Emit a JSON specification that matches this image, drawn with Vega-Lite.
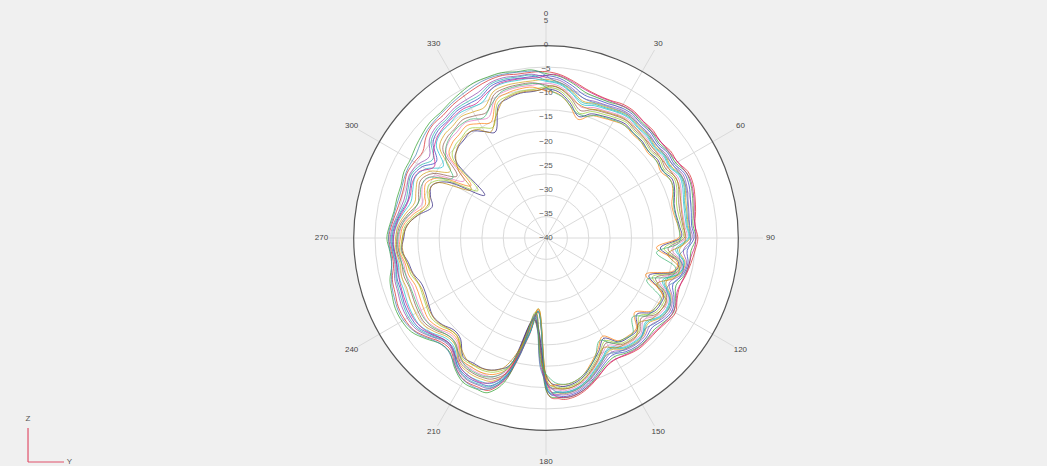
{
"$schema":"https://vega.github.io/schema/vega-lite/v6.json",
"width":1000,"height":440,
"autosize":{"type":"none"},
"padding":{"left":46,"top":18,"right":1,"bottom":8},
"background":"#f0f0f0",
"config":{"view":{"stroke":null},"text":{"font":"Liberation Sans"}},
"datasets":{
"rings":[{"db":-40},{"db":-35},{"db":-30},{"db":-25},{"db":-20},{"db":-15},{"db":-10},{"db":-5},{"db":0},{"db":5}],
"spokes":[{"ang":0},{"ang":30},{"ang":60},{"ang":90},{"ang":120},{"ang":150},{"ang":180},{"ang":210},{"ang":240},{"ang":270},{"ang":300},{"ang":330}],
"curves":[
{"s":1,"a":0,"r":-5.5},{"s":1,"a":5,"r":-6},{"s":1,"a":10,"r":-7},{"s":1,"a":15,"r":-8},{"s":1,"a":20,"r":-8.5},{"s":1,"a":25,"r":-8.5},{"s":1,"a":30,"r":-8},{"s":1,"a":35,"r":-8},{"s":1,"a":40,"r":-8.5},{"s":1,"a":45,"r":-8.5},{"s":1,"a":50,"r":-9},{"s":1,"a":55,"r":-8.5},{"s":1,"a":60,"r":-8.5},{"s":1,"a":65,"r":-7.5},{"s":1,"a":70,"r":-7.5},{"s":1,"a":75,"r":-8},{"s":1,"a":80,"r":-8.5},{"s":1,"a":85,"r":-9},{"s":1,"a":90,"r":-8.5},{"s":1,"a":95,"r":-9},{"s":1,"a":100,"r":-9.5},{"s":1,"a":105,"r":-10},{"s":1,"a":110,"r":-10.5},{"s":1,"a":115,"r":-10},{"s":1,"a":120,"r":-9},{"s":1,"a":125,"r":-9.5},{"s":1,"a":130,"r":-10},{"s":1,"a":135,"r":-10},{"s":1,"a":140,"r":-10},{"s":1,"a":145,"r":-10.5},{"s":1,"a":150,"r":-11},{"s":1,"a":155,"r":-10.5},{"s":1,"a":160,"r":-9},{"s":1,"a":165,"r":-7.5},{"s":1,"a":170,"r":-6.5},{"s":1,"a":175,"r":-6.5},
{"s":1,"a":180,"r":-8.8},{"s":1,"a":185,"r":-24.1},{"s":1,"a":190,"r":-19.2},{"s":1,"a":195,"r":-10.8},{"s":1,"a":200,"r":-6.5},{"s":1,"a":205,"r":-6},{"s":1,"a":210,"r":-6},{"s":1,"a":215,"r":-7.3},{"s":1,"a":220,"r":-9.4},{"s":1,"a":225,"r":-9.4},{"s":1,"a":230,"r":-8},{"s":1,"a":235,"r":-6.6},{"s":1,"a":240,"r":-6.2},{"s":1,"a":245,"r":-6.2},{"s":1,"a":250,"r":-6.7},{"s":1,"a":255,"r":-7},{"s":1,"a":260,"r":-7.9},{"s":1,"a":265,"r":-7.8},{"s":1,"a":270,"r":-7.4},{"s":1,"a":275,"r":-7.9},{"s":1,"a":280,"r":-8.5},{"s":1,"a":285,"r":-8.8},{"s":1,"a":290,"r":-8.7},{"s":1,"a":295,"r":-8.2},{"s":1,"a":300,"r":-8.5},{"s":1,"a":305,"r":-8.8},{"s":1,"a":310,"r":-7.5},{"s":1,"a":315,"r":-6.8},{"s":1,"a":320,"r":-6.8},{"s":1,"a":325,"r":-6.3},{"s":1,"a":330,"r":-6},{"s":1,"a":335,"r":-5.6},{"s":1,"a":340,"r":-5.2},{"s":1,"a":345,"r":-5.1},{"s":1,"a":350,"r":-5.5},{"s":1,"a":355,"r":-5.5},
{"s":2,"a":0,"r":-5.9},{"s":2,"a":5,"r":-6.4},{"s":2,"a":10,"r":-7.5},{"s":2,"a":15,"r":-8.7},{"s":2,"a":20,"r":-9},{"s":2,"a":25,"r":-8.9},{"s":2,"a":30,"r":-8.4},{"s":2,"a":35,"r":-8.4},{"s":2,"a":40,"r":-8.9},{"s":2,"a":45,"r":-8.9},{"s":2,"a":50,"r":-9.4},{"s":2,"a":55,"r":-8.9},{"s":2,"a":60,"r":-8.9},{"s":2,"a":65,"r":-7.9},{"s":2,"a":70,"r":-8},{"s":2,"a":75,"r":-8.5},{"s":2,"a":80,"r":-9},{"s":2,"a":85,"r":-9.4},{"s":2,"a":90,"r":-8.9},{"s":2,"a":95,"r":-9.8},{"s":2,"a":100,"r":-9.8},{"s":2,"a":105,"r":-10.3},{"s":2,"a":110,"r":-11.3},{"s":2,"a":115,"r":-10.4},{"s":2,"a":120,"r":-9.4},{"s":2,"a":125,"r":-9.9},{"s":2,"a":130,"r":-10.6},{"s":2,"a":135,"r":-10.4},{"s":2,"a":140,"r":-10.4},{"s":2,"a":145,"r":-10.9},{"s":2,"a":150,"r":-11.6},{"s":2,"a":155,"r":-10.9},{"s":2,"a":160,"r":-9.4},{"s":2,"a":165,"r":-7.8},{"s":2,"a":170,"r":-6.8},{"s":2,"a":175,"r":-6.8},
{"s":2,"a":180,"r":-8.5},{"s":2,"a":185,"r":-20.5},{"s":2,"a":190,"r":-22},{"s":2,"a":195,"r":-10.5},{"s":2,"a":200,"r":-6},{"s":2,"a":205,"r":-5.5},{"s":2,"a":210,"r":-5.5},{"s":2,"a":215,"r":-7},{"s":2,"a":220,"r":-9},{"s":2,"a":225,"r":-9},{"s":2,"a":230,"r":-7.5},{"s":2,"a":235,"r":-6},{"s":2,"a":240,"r":-5.5},{"s":2,"a":245,"r":-5.5},{"s":2,"a":250,"r":-6},{"s":2,"a":255,"r":-6.5},{"s":2,"a":260,"r":-7.5},{"s":2,"a":265,"r":-7.5},{"s":2,"a":270,"r":-7},{"s":2,"a":275,"r":-7.5},{"s":2,"a":280,"r":-8},{"s":2,"a":285,"r":-8},{"s":2,"a":290,"r":-8},{"s":2,"a":295,"r":-7.5},{"s":2,"a":300,"r":-7.5},{"s":2,"a":305,"r":-7},{"s":2,"a":310,"r":-6.5},{"s":2,"a":315,"r":-6},{"s":2,"a":320,"r":-6},{"s":2,"a":325,"r":-5.5},{"s":2,"a":330,"r":-5},{"s":2,"a":335,"r":-4.5},{"s":2,"a":340,"r":-4.5},{"s":2,"a":345,"r":-4.5},{"s":2,"a":350,"r":-5},{"s":2,"a":355,"r":-5},
{"s":3,"a":0,"r":-6.3},{"s":3,"a":5,"r":-6.8},{"s":3,"a":10,"r":-8},{"s":3,"a":15,"r":-9.3},{"s":3,"a":20,"r":-9.4},{"s":3,"a":25,"r":-9.3},{"s":3,"a":30,"r":-8.8},{"s":3,"a":35,"r":-8.7},{"s":3,"a":40,"r":-9.2},{"s":3,"a":45,"r":-9.2},{"s":3,"a":50,"r":-9.7},{"s":3,"a":55,"r":-9.2},{"s":3,"a":60,"r":-9.3},{"s":3,"a":65,"r":-8.3},{"s":3,"a":70,"r":-8.4},{"s":3,"a":75,"r":-9},{"s":3,"a":80,"r":-9.4},{"s":3,"a":85,"r":-9.7},{"s":3,"a":90,"r":-9.3},{"s":3,"a":95,"r":-10.6},{"s":3,"a":100,"r":-10.1},{"s":3,"a":105,"r":-10.6},{"s":3,"a":110,"r":-12},{"s":3,"a":115,"r":-10.7},{"s":3,"a":120,"r":-9.8},{"s":3,"a":125,"r":-10.3},{"s":3,"a":130,"r":-11.2},{"s":3,"a":135,"r":-10.7},{"s":3,"a":140,"r":-10.7},{"s":3,"a":145,"r":-11.2},{"s":3,"a":150,"r":-12.1},{"s":3,"a":155,"r":-11.3},{"s":3,"a":160,"r":-9.7},{"s":3,"a":165,"r":-8.1},{"s":3,"a":170,"r":-7.1},{"s":3,"a":175,"r":-7.1},
{"s":3,"a":180,"r":-9.4},{"s":3,"a":185,"r":-24.3},{"s":3,"a":190,"r":-19.6},{"s":3,"a":195,"r":-11.4},{"s":3,"a":200,"r":-7.5},{"s":3,"a":205,"r":-6.9},{"s":3,"a":210,"r":-6.9},{"s":3,"a":215,"r":-7.9},{"s":3,"a":220,"r":-10.1},{"s":3,"a":225,"r":-10.2},{"s":3,"a":230,"r":-8.9},{"s":3,"a":235,"r":-7.7},{"s":3,"a":240,"r":-7.5},{"s":3,"a":245,"r":-7.6},{"s":3,"a":250,"r":-8},{"s":3,"a":255,"r":-8},{"s":3,"a":260,"r":-8.6},{"s":3,"a":265,"r":-8.3},{"s":3,"a":270,"r":-8.1},{"s":3,"a":275,"r":-8.6},{"s":3,"a":280,"r":-9.5},{"s":3,"a":285,"r":-10.3},{"s":3,"a":290,"r":-10},{"s":3,"a":295,"r":-9.5},{"s":3,"a":300,"r":-10.4},{"s":3,"a":305,"r":-12.3},{"s":3,"a":310,"r":-9.4},{"s":3,"a":315,"r":-8.4},{"s":3,"a":320,"r":-8.3},{"s":3,"a":325,"r":-7.8},{"s":3,"a":330,"r":-7.9},{"s":3,"a":335,"r":-7.8},{"s":3,"a":340,"r":-6.5},{"s":3,"a":345,"r":-6.2},{"s":3,"a":350,"r":-6.4},{"s":3,"a":355,"r":-6.4},
{"s":4,"a":0,"r":-6.7},{"s":4,"a":5,"r":-7.2},{"s":4,"a":10,"r":-8.5},{"s":4,"a":15,"r":-10},{"s":4,"a":20,"r":-9.9},{"s":4,"a":25,"r":-9.7},{"s":4,"a":30,"r":-9.2},{"s":4,"a":35,"r":-9.1},{"s":4,"a":40,"r":-9.6},{"s":4,"a":45,"r":-9.6},{"s":4,"a":50,"r":-10.1},{"s":4,"a":55,"r":-9.6},{"s":4,"a":60,"r":-9.7},{"s":4,"a":65,"r":-8.7},{"s":4,"a":70,"r":-8.9},{"s":4,"a":75,"r":-9.5},{"s":4,"a":80,"r":-9.9},{"s":4,"a":85,"r":-10.1},{"s":4,"a":90,"r":-9.7},{"s":4,"a":95,"r":-11.4},{"s":4,"a":100,"r":-10.4},{"s":4,"a":105,"r":-10.9},{"s":4,"a":110,"r":-12.8},{"s":4,"a":115,"r":-11.1},{"s":4,"a":120,"r":-10.2},{"s":4,"a":125,"r":-10.7},{"s":4,"a":130,"r":-11.8},{"s":4,"a":135,"r":-11.1},{"s":4,"a":140,"r":-11.1},{"s":4,"a":145,"r":-11.6},{"s":4,"a":150,"r":-12.7},{"s":4,"a":155,"r":-11.7},{"s":4,"a":160,"r":-10.1},{"s":4,"a":165,"r":-8.4},{"s":4,"a":170,"r":-7.4},{"s":4,"a":175,"r":-7.4},
{"s":4,"a":180,"r":-9.1},{"s":4,"a":185,"r":-20.8},{"s":4,"a":190,"r":-22.2},{"s":4,"a":195,"r":-11.1},{"s":4,"a":200,"r":-7},{"s":4,"a":205,"r":-6.4},{"s":4,"a":210,"r":-6.4},{"s":4,"a":215,"r":-7.6},{"s":4,"a":220,"r":-9.7},{"s":4,"a":225,"r":-9.8},{"s":4,"a":230,"r":-8.4},{"s":4,"a":235,"r":-7.1},{"s":4,"a":240,"r":-6.8},{"s":4,"a":245,"r":-6.9},{"s":4,"a":250,"r":-7.3},{"s":4,"a":255,"r":-7.5},{"s":4,"a":260,"r":-8.2},{"s":4,"a":265,"r":-8},{"s":4,"a":270,"r":-7.7},{"s":4,"a":275,"r":-8.2},{"s":4,"a":280,"r":-9},{"s":4,"a":285,"r":-9.5},{"s":4,"a":290,"r":-9.3},{"s":4,"a":295,"r":-8.8},{"s":4,"a":300,"r":-9.4},{"s":4,"a":305,"r":-10.5},{"s":4,"a":310,"r":-8.4},{"s":4,"a":315,"r":-7.6},{"s":4,"a":320,"r":-7.5},{"s":4,"a":325,"r":-7},{"s":4,"a":330,"r":-6.9},{"s":4,"a":335,"r":-6.7},{"s":4,"a":340,"r":-5.8},{"s":4,"a":345,"r":-5.6},{"s":4,"a":350,"r":-5.9},{"s":4,"a":355,"r":-5.9},
{"s":5,"a":0,"r":-7.1},{"s":5,"a":5,"r":-7.6},{"s":5,"a":10,"r":-9},{"s":5,"a":15,"r":-10.6},{"s":5,"a":20,"r":-10.3},{"s":5,"a":25,"r":-10.1},{"s":5,"a":30,"r":-9.6},{"s":5,"a":35,"r":-9.4},{"s":5,"a":40,"r":-9.9},{"s":5,"a":45,"r":-9.9},{"s":5,"a":50,"r":-10.4},{"s":5,"a":55,"r":-9.9},{"s":5,"a":60,"r":-10.1},{"s":5,"a":65,"r":-9.1},{"s":5,"a":70,"r":-9.3},{"s":5,"a":75,"r":-10},{"s":5,"a":80,"r":-10.3},{"s":5,"a":85,"r":-10.4},{"s":5,"a":90,"r":-10.1},{"s":5,"a":95,"r":-12.2},{"s":5,"a":100,"r":-10.7},{"s":5,"a":105,"r":-11.2},{"s":5,"a":110,"r":-13.5},{"s":5,"a":115,"r":-11.4},{"s":5,"a":120,"r":-10.6},{"s":5,"a":125,"r":-11.1},{"s":5,"a":130,"r":-12.4},{"s":5,"a":135,"r":-11.4},{"s":5,"a":140,"r":-11.4},{"s":5,"a":145,"r":-11.9},{"s":5,"a":150,"r":-13.2},{"s":5,"a":155,"r":-12.1},{"s":5,"a":160,"r":-10.4},{"s":5,"a":165,"r":-8.7},{"s":5,"a":170,"r":-7.7},{"s":5,"a":175,"r":-7.7},
{"s":5,"a":180,"r":-10},{"s":5,"a":185,"r":-24.5},{"s":5,"a":190,"r":-20},{"s":5,"a":195,"r":-12},{"s":5,"a":200,"r":-8.5},{"s":5,"a":205,"r":-7.8},{"s":5,"a":210,"r":-7.8},{"s":5,"a":215,"r":-8.5},{"s":5,"a":220,"r":-10.8},{"s":5,"a":225,"r":-11},{"s":5,"a":230,"r":-9.8},{"s":5,"a":235,"r":-8.8},{"s":5,"a":240,"r":-8.8},{"s":5,"a":245,"r":-9},{"s":5,"a":250,"r":-9.3},{"s":5,"a":255,"r":-9},{"s":5,"a":260,"r":-9.3},{"s":5,"a":265,"r":-8.8},{"s":5,"a":270,"r":-8.8},{"s":5,"a":275,"r":-9.3},{"s":5,"a":280,"r":-10.5},{"s":5,"a":285,"r":-11.8},{"s":5,"a":290,"r":-11.3},{"s":5,"a":295,"r":-10.8},{"s":5,"a":300,"r":-12.3},{"s":5,"a":305,"r":-15.8},{"s":5,"a":310,"r":-11.3},{"s":5,"a":315,"r":-10},{"s":5,"a":320,"r":-9.8},{"s":5,"a":325,"r":-9.3},{"s":5,"a":330,"r":-9.8},{"s":5,"a":335,"r":-10},{"s":5,"a":340,"r":-7.8},{"s":5,"a":345,"r":-7.3},{"s":5,"a":350,"r":-7.3},{"s":5,"a":355,"r":-7.3},
{"s":6,"a":0,"r":-7.5},{"s":6,"a":5,"r":-8},{"s":6,"a":10,"r":-9.5},{"s":6,"a":15,"r":-11.3},{"s":6,"a":20,"r":-10.8},{"s":6,"a":25,"r":-10.5},{"s":6,"a":30,"r":-10},{"s":6,"a":35,"r":-9.8},{"s":6,"a":40,"r":-10.3},{"s":6,"a":45,"r":-10.3},{"s":6,"a":50,"r":-10.8},{"s":6,"a":55,"r":-10.3},{"s":6,"a":60,"r":-10.5},{"s":6,"a":65,"r":-9.5},{"s":6,"a":70,"r":-9.8},{"s":6,"a":75,"r":-10.5},{"s":6,"a":80,"r":-10.8},{"s":6,"a":85,"r":-10.8},{"s":6,"a":90,"r":-10.5},{"s":6,"a":95,"r":-13},{"s":6,"a":100,"r":-11},{"s":6,"a":105,"r":-11.5},{"s":6,"a":110,"r":-14.3},{"s":6,"a":115,"r":-11.8},{"s":6,"a":120,"r":-11},{"s":6,"a":125,"r":-11.5},{"s":6,"a":130,"r":-13},{"s":6,"a":135,"r":-11.8},{"s":6,"a":140,"r":-11.8},{"s":6,"a":145,"r":-12.3},{"s":6,"a":150,"r":-13.8},{"s":6,"a":155,"r":-12.5},{"s":6,"a":160,"r":-10.8},{"s":6,"a":165,"r":-9},{"s":6,"a":170,"r":-8},{"s":6,"a":175,"r":-8},
{"s":6,"a":180,"r":-9.7},{"s":6,"a":185,"r":-24.4},{"s":6,"a":190,"r":-19.8},{"s":6,"a":195,"r":-11.7},{"s":6,"a":200,"r":-8},{"s":6,"a":205,"r":-7.3},{"s":6,"a":210,"r":-7.3},{"s":6,"a":215,"r":-8.2},{"s":6,"a":220,"r":-10.4},{"s":6,"a":225,"r":-10.6},{"s":6,"a":230,"r":-9.3},{"s":6,"a":235,"r":-8.2},{"s":6,"a":240,"r":-8.1},{"s":6,"a":245,"r":-8.3},{"s":6,"a":250,"r":-8.6},{"s":6,"a":255,"r":-8.5},{"s":6,"a":260,"r":-8.9},{"s":6,"a":265,"r":-8.5},{"s":6,"a":270,"r":-8.4},{"s":6,"a":275,"r":-8.9},{"s":6,"a":280,"r":-10},{"s":6,"a":285,"r":-11},{"s":6,"a":290,"r":-10.6},{"s":6,"a":295,"r":-10.1},{"s":6,"a":300,"r":-11.3},{"s":6,"a":305,"r":-14},{"s":6,"a":310,"r":-10.3},{"s":6,"a":315,"r":-9.2},{"s":6,"a":320,"r":-9},{"s":6,"a":325,"r":-8.5},{"s":6,"a":330,"r":-8.8},{"s":6,"a":335,"r":-8.9},{"s":6,"a":340,"r":-7.1},{"s":6,"a":345,"r":-6.7},{"s":6,"a":350,"r":-6.8},{"s":6,"a":355,"r":-6.8},
{"s":7,"a":0,"r":-7.9},{"s":7,"a":5,"r":-8.4},{"s":7,"a":10,"r":-10},{"s":7,"a":15,"r":-11.9},{"s":7,"a":20,"r":-11.2},{"s":7,"a":25,"r":-10.9},{"s":7,"a":30,"r":-10.4},{"s":7,"a":35,"r":-10.1},{"s":7,"a":40,"r":-10.6},{"s":7,"a":45,"r":-10.6},{"s":7,"a":50,"r":-11.1},{"s":7,"a":55,"r":-10.6},{"s":7,"a":60,"r":-10.9},{"s":7,"a":65,"r":-9.9},{"s":7,"a":70,"r":-10.2},{"s":7,"a":75,"r":-11},{"s":7,"a":80,"r":-11.2},{"s":7,"a":85,"r":-11.1},{"s":7,"a":90,"r":-10.9},{"s":7,"a":95,"r":-13.8},{"s":7,"a":100,"r":-11.3},{"s":7,"a":105,"r":-11.8},{"s":7,"a":110,"r":-15},{"s":7,"a":115,"r":-12.1},{"s":7,"a":120,"r":-11.4},{"s":7,"a":125,"r":-11.9},{"s":7,"a":130,"r":-13.6},{"s":7,"a":135,"r":-12.1},{"s":7,"a":140,"r":-12.1},{"s":7,"a":145,"r":-12.6},{"s":7,"a":150,"r":-14.3},{"s":7,"a":155,"r":-12.9},{"s":7,"a":160,"r":-11.1},{"s":7,"a":165,"r":-9.3},{"s":7,"a":170,"r":-8.3},{"s":7,"a":175,"r":-8.3},
{"s":7,"a":180,"r":-10.6},{"s":7,"a":185,"r":-24.7},{"s":7,"a":190,"r":-20.4},{"s":7,"a":195,"r":-12.6},{"s":7,"a":200,"r":-9.5},{"s":7,"a":205,"r":-8.7},{"s":7,"a":210,"r":-8.7},{"s":7,"a":215,"r":-9.1},{"s":7,"a":220,"r":-11.5},{"s":7,"a":225,"r":-11.8},{"s":7,"a":230,"r":-10.7},{"s":7,"a":235,"r":-9.9},{"s":7,"a":240,"r":-10.1},{"s":7,"a":245,"r":-10.4},{"s":7,"a":250,"r":-10.6},{"s":7,"a":255,"r":-10},{"s":7,"a":260,"r":-10},{"s":7,"a":265,"r":-9.3},{"s":7,"a":270,"r":-9.5},{"s":7,"a":275,"r":-10},{"s":7,"a":280,"r":-11.5},{"s":7,"a":285,"r":-13.3},{"s":7,"a":290,"r":-12.6},{"s":7,"a":295,"r":-12.1},{"s":7,"a":300,"r":-14.2},{"s":7,"a":305,"r":-19.3},{"s":7,"a":310,"r":-13.2},{"s":7,"a":315,"r":-11.6},{"s":7,"a":320,"r":-11.3},{"s":7,"a":325,"r":-10.8},{"s":7,"a":330,"r":-11.7},{"s":7,"a":335,"r":-12.2},{"s":7,"a":340,"r":-9.1},{"s":7,"a":345,"r":-8.4},{"s":7,"a":350,"r":-8.2},{"s":7,"a":355,"r":-8.2},
{"s":8,"a":0,"r":-8.3},{"s":8,"a":5,"r":-8.8},{"s":8,"a":10,"r":-10.5},{"s":8,"a":15,"r":-12.6},{"s":8,"a":20,"r":-11.7},{"s":8,"a":25,"r":-11.3},{"s":8,"a":30,"r":-10.8},{"s":8,"a":35,"r":-10.5},{"s":8,"a":40,"r":-11},{"s":8,"a":45,"r":-11},{"s":8,"a":50,"r":-11.5},{"s":8,"a":55,"r":-11},{"s":8,"a":60,"r":-11.3},{"s":8,"a":65,"r":-10.3},{"s":8,"a":70,"r":-10.7},{"s":8,"a":75,"r":-11.5},{"s":8,"a":80,"r":-11.7},{"s":8,"a":85,"r":-11.5},{"s":8,"a":90,"r":-11.3},{"s":8,"a":95,"r":-14.6},{"s":8,"a":100,"r":-11.6},{"s":8,"a":105,"r":-12.1},{"s":8,"a":110,"r":-15.8},{"s":8,"a":115,"r":-12.5},{"s":8,"a":120,"r":-11.8},{"s":8,"a":125,"r":-12.3},{"s":8,"a":130,"r":-14.2},{"s":8,"a":135,"r":-12.5},{"s":8,"a":140,"r":-12.5},{"s":8,"a":145,"r":-13},{"s":8,"a":150,"r":-14.9},{"s":8,"a":155,"r":-13.3},{"s":8,"a":160,"r":-11.5},{"s":8,"a":165,"r":-9.6},{"s":8,"a":170,"r":-8.6},{"s":8,"a":175,"r":-8.6},
{"s":8,"a":180,"r":-10.3},{"s":8,"a":185,"r":-21},{"s":8,"a":190,"r":-22.2},{"s":8,"a":195,"r":-12.3},{"s":8,"a":200,"r":-9},{"s":8,"a":205,"r":-8.2},{"s":8,"a":210,"r":-8.2},{"s":8,"a":215,"r":-8.8},{"s":8,"a":220,"r":-11.1},{"s":8,"a":225,"r":-11.4},{"s":8,"a":230,"r":-10.2},{"s":8,"a":235,"r":-9.3},{"s":8,"a":240,"r":-9.4},{"s":8,"a":245,"r":-9.7},{"s":8,"a":250,"r":-9.9},{"s":8,"a":255,"r":-9.5},{"s":8,"a":260,"r":-9.6},{"s":8,"a":265,"r":-9},{"s":8,"a":270,"r":-9.1},{"s":8,"a":275,"r":-9.6},{"s":8,"a":280,"r":-11},{"s":8,"a":285,"r":-12.5},{"s":8,"a":290,"r":-11.9},{"s":8,"a":295,"r":-11.4},{"s":8,"a":300,"r":-13.2},{"s":8,"a":305,"r":-17.5},{"s":8,"a":310,"r":-12.2},{"s":8,"a":315,"r":-10.8},{"s":8,"a":320,"r":-10.5},{"s":8,"a":325,"r":-10},{"s":8,"a":330,"r":-10.7},{"s":8,"a":335,"r":-11.1},{"s":8,"a":340,"r":-8.4},{"s":8,"a":345,"r":-7.8},{"s":8,"a":350,"r":-7.7},{"s":8,"a":355,"r":-7.7},
{"s":9,"a":0,"r":-8.7},{"s":9,"a":5,"r":-9.2},{"s":9,"a":10,"r":-11},{"s":9,"a":15,"r":-13.2},{"s":9,"a":20,"r":-12.1},{"s":9,"a":25,"r":-11.7},{"s":9,"a":30,"r":-11.2},{"s":9,"a":35,"r":-10.8},{"s":9,"a":40,"r":-11.3},{"s":9,"a":45,"r":-11.3},{"s":9,"a":50,"r":-11.8},{"s":9,"a":55,"r":-11.3},{"s":9,"a":60,"r":-11.7},{"s":9,"a":65,"r":-10.7},{"s":9,"a":70,"r":-11.1},{"s":9,"a":75,"r":-12},{"s":9,"a":80,"r":-12.1},{"s":9,"a":85,"r":-11.8},{"s":9,"a":90,"r":-11.7},{"s":9,"a":95,"r":-15.4},{"s":9,"a":100,"r":-11.9},{"s":9,"a":105,"r":-12.4},{"s":9,"a":110,"r":-16.5},{"s":9,"a":115,"r":-12.8},{"s":9,"a":120,"r":-12.2},{"s":9,"a":125,"r":-12.7},{"s":9,"a":130,"r":-14.8},{"s":9,"a":135,"r":-12.8},{"s":9,"a":140,"r":-12.8},{"s":9,"a":145,"r":-13.3},{"s":9,"a":150,"r":-15.4},{"s":9,"a":155,"r":-13.7},{"s":9,"a":160,"r":-11.8},{"s":9,"a":165,"r":-9.9},{"s":9,"a":170,"r":-8.9},{"s":9,"a":175,"r":-8.9},
{"s":9,"a":180,"r":-11.2},{"s":9,"a":185,"r":-24.9},{"s":9,"a":190,"r":-20.8},{"s":9,"a":195,"r":-13.2},{"s":9,"a":200,"r":-10.5},{"s":9,"a":205,"r":-9.6},{"s":9,"a":210,"r":-9.6},{"s":9,"a":215,"r":-9.7},{"s":9,"a":220,"r":-12.2},{"s":9,"a":225,"r":-12.6},{"s":9,"a":230,"r":-11.6},{"s":9,"a":235,"r":-11},{"s":9,"a":240,"r":-11.4},{"s":9,"a":245,"r":-11.8},{"s":9,"a":250,"r":-11.9},{"s":9,"a":255,"r":-11},{"s":9,"a":260,"r":-10.7},{"s":9,"a":265,"r":-9.8},{"s":9,"a":270,"r":-10.2},{"s":9,"a":275,"r":-10.7},{"s":9,"a":280,"r":-12.5},{"s":9,"a":285,"r":-14.8},{"s":9,"a":290,"r":-13.9},{"s":9,"a":295,"r":-13.4},{"s":9,"a":300,"r":-16.1},{"s":9,"a":305,"r":-22.8},{"s":9,"a":310,"r":-15.1},{"s":9,"a":315,"r":-13.2},{"s":9,"a":320,"r":-12.8},{"s":9,"a":325,"r":-12.3},{"s":9,"a":330,"r":-13.6},{"s":9,"a":335,"r":-14.4},{"s":9,"a":340,"r":-10.4},{"s":9,"a":345,"r":-9.5},{"s":9,"a":350,"r":-9.1},{"s":9,"a":355,"r":-9.1},
{"s":10,"a":0,"r":-9.1},{"s":10,"a":5,"r":-9.6},{"s":10,"a":10,"r":-11.5},{"s":10,"a":15,"r":-13.9},{"s":10,"a":20,"r":-12.6},{"s":10,"a":25,"r":-12.1},{"s":10,"a":30,"r":-11.6},{"s":10,"a":35,"r":-11.2},{"s":10,"a":40,"r":-11.7},{"s":10,"a":45,"r":-11.7},{"s":10,"a":50,"r":-12.2},{"s":10,"a":55,"r":-11.7},{"s":10,"a":60,"r":-12.1},{"s":10,"a":65,"r":-11.1},{"s":10,"a":70,"r":-11.6},{"s":10,"a":75,"r":-12.5},{"s":10,"a":80,"r":-12.6},{"s":10,"a":85,"r":-12.2},{"s":10,"a":90,"r":-12.1},{"s":10,"a":95,"r":-16.2},{"s":10,"a":100,"r":-12.2},{"s":10,"a":105,"r":-12.7},{"s":10,"a":110,"r":-17.3},{"s":10,"a":115,"r":-13.2},{"s":10,"a":120,"r":-12.6},{"s":10,"a":125,"r":-13.1},{"s":10,"a":130,"r":-15.4},{"s":10,"a":135,"r":-13.2},{"s":10,"a":140,"r":-13.2},{"s":10,"a":145,"r":-13.7},{"s":10,"a":150,"r":-16},{"s":10,"a":155,"r":-14.1},{"s":10,"a":160,"r":-12.2},{"s":10,"a":165,"r":-10.2},{"s":10,"a":170,"r":-9.2},{"s":10,"a":175,"r":-9.2},
{"s":10,"a":180,"r":-11.5},{"s":10,"a":185,"r":-21.5},{"s":10,"a":190,"r":-22.5},{"s":10,"a":195,"r":-13.5},{"s":10,"a":200,"r":-11},{"s":10,"a":205,"r":-10},{"s":10,"a":210,"r":-10},{"s":10,"a":215,"r":-10},{"s":10,"a":220,"r":-12.5},{"s":10,"a":225,"r":-13},{"s":10,"a":230,"r":-12},{"s":10,"a":235,"r":-11.5},{"s":10,"a":240,"r":-12},{"s":10,"a":245,"r":-12.5},{"s":10,"a":250,"r":-12.5},{"s":10,"a":255,"r":-11.5},{"s":10,"a":260,"r":-11},{"s":10,"a":265,"r":-10},{"s":10,"a":270,"r":-10.5},{"s":10,"a":275,"r":-11},{"s":10,"a":280,"r":-13},{"s":10,"a":285,"r":-15.5},{"s":10,"a":290,"r":-14.5},{"s":10,"a":295,"r":-14},{"s":10,"a":300,"r":-17},{"s":10,"a":305,"r":-24.5},{"s":10,"a":310,"r":-16},{"s":10,"a":315,"r":-14},{"s":10,"a":320,"r":-13.5},{"s":10,"a":325,"r":-13},{"s":10,"a":330,"r":-14.5},{"s":10,"a":335,"r":-15.5},{"s":10,"a":340,"r":-11},{"s":10,"a":345,"r":-10},{"s":10,"a":350,"r":-9.5},{"s":10,"a":355,"r":-9.5},
{"s":11,"a":0,"r":-9.5},{"s":11,"a":5,"r":-10},{"s":11,"a":10,"r":-12},{"s":11,"a":15,"r":-14.5},{"s":11,"a":20,"r":-13},{"s":11,"a":25,"r":-12.5},{"s":11,"a":30,"r":-12},{"s":11,"a":35,"r":-11.5},{"s":11,"a":40,"r":-12},{"s":11,"a":45,"r":-12},{"s":11,"a":50,"r":-12.5},{"s":11,"a":55,"r":-12},{"s":11,"a":60,"r":-12.5},{"s":11,"a":65,"r":-11.5},{"s":11,"a":70,"r":-12},{"s":11,"a":75,"r":-13},{"s":11,"a":80,"r":-13},{"s":11,"a":85,"r":-12.5},{"s":11,"a":90,"r":-12.5},{"s":11,"a":95,"r":-17},{"s":11,"a":100,"r":-12.5},{"s":11,"a":105,"r":-13},{"s":11,"a":110,"r":-18},{"s":11,"a":115,"r":-13.5},{"s":11,"a":120,"r":-13},{"s":11,"a":125,"r":-13.5},{"s":11,"a":130,"r":-16},{"s":11,"a":135,"r":-13.5},{"s":11,"a":140,"r":-13.5},{"s":11,"a":145,"r":-14},{"s":11,"a":150,"r":-16.5},{"s":11,"a":155,"r":-14.5},{"s":11,"a":160,"r":-12.5},{"s":11,"a":165,"r":-10.5},{"s":11,"a":170,"r":-9.5},{"s":11,"a":175,"r":-9.5},
{"s":11,"a":180,"r":-10.9},{"s":11,"a":185,"r":-24.8},{"s":11,"a":190,"r":-20.6},{"s":11,"a":195,"r":-12.9},{"s":11,"a":200,"r":-10},{"s":11,"a":205,"r":-9.1},{"s":11,"a":210,"r":-9.1},{"s":11,"a":215,"r":-9.4},{"s":11,"a":220,"r":-11.8},{"s":11,"a":225,"r":-12.2},{"s":11,"a":230,"r":-11.1},{"s":11,"a":235,"r":-10.4},{"s":11,"a":240,"r":-10.7},{"s":11,"a":245,"r":-11.1},{"s":11,"a":250,"r":-11.2},{"s":11,"a":255,"r":-10.5},{"s":11,"a":260,"r":-10.3},{"s":11,"a":265,"r":-9.5},{"s":11,"a":270,"r":-9.8},{"s":11,"a":275,"r":-10.3},{"s":11,"a":280,"r":-12},{"s":11,"a":285,"r":-14},{"s":11,"a":290,"r":-13.2},{"s":11,"a":295,"r":-12.7},{"s":11,"a":300,"r":-15.1},{"s":11,"a":305,"r":-21},{"s":11,"a":310,"r":-14.1},{"s":11,"a":315,"r":-12.4},{"s":11,"a":320,"r":-12},{"s":11,"a":325,"r":-11.5},{"s":11,"a":330,"r":-12.6},{"s":11,"a":335,"r":-13.3},{"s":11,"a":340,"r":-9.7},{"s":11,"a":345,"r":-8.9},{"s":11,"a":350,"r":-8.6},{"s":11,"a":355,"r":-8.6},
{"s":12,"a":0,"r":-7.3},{"s":12,"a":5,"r":-7.8},{"s":12,"a":10,"r":-9.3},{"s":12,"a":15,"r":-10.9},{"s":12,"a":20,"r":-10.5},{"s":12,"a":25,"r":-10.3},{"s":12,"a":30,"r":-9.8},{"s":12,"a":35,"r":-9.6},{"s":12,"a":40,"r":-10.1},{"s":12,"a":45,"r":-10.1},{"s":12,"a":50,"r":-10.6},{"s":12,"a":55,"r":-10.1},{"s":12,"a":60,"r":-10.3},{"s":12,"a":65,"r":-9.3},{"s":12,"a":70,"r":-9.5},{"s":12,"a":75,"r":-10.3},{"s":12,"a":80,"r":-10.5},{"s":12,"a":85,"r":-10.6},{"s":12,"a":90,"r":-10.3},{"s":12,"a":95,"r":-12.6},{"s":12,"a":100,"r":-10.9},{"s":12,"a":105,"r":-11.4},{"s":12,"a":110,"r":-13.9},{"s":12,"a":115,"r":-11.6},{"s":12,"a":120,"r":-10.8},{"s":12,"a":125,"r":-11.3},{"s":12,"a":130,"r":-12.7},{"s":12,"a":135,"r":-11.6},{"s":12,"a":140,"r":-11.6},{"s":12,"a":145,"r":-12.1},{"s":12,"a":150,"r":-13.5},{"s":12,"a":155,"r":-12.3},{"s":12,"a":160,"r":-10.6},{"s":12,"a":165,"r":-8.9},{"s":12,"a":170,"r":-7.9},{"s":12,"a":175,"r":-7.9},
{"s":12,"a":180,"r":-9.3},{"s":12,"a":185,"r":-24.3},{"s":12,"a":190,"r":-19.5},{"s":12,"a":195,"r":-11.3},{"s":12,"a":200,"r":-7.3},{"s":12,"a":205,"r":-6.6},{"s":12,"a":210,"r":-6.6},{"s":12,"a":215,"r":-7.8},{"s":12,"a":220,"r":-9.9},{"s":12,"a":225,"r":-10},{"s":12,"a":230,"r":-8.6},{"s":12,"a":235,"r":-7.4},{"s":12,"a":240,"r":-7.1},{"s":12,"a":245,"r":-7.3},{"s":12,"a":250,"r":-7.6},{"s":12,"a":255,"r":-7.8},{"s":12,"a":260,"r":-8.4},{"s":12,"a":265,"r":-8.1},{"s":12,"a":270,"r":-7.9},{"s":12,"a":275,"r":-8.4},{"s":12,"a":280,"r":-9.3},{"s":12,"a":285,"r":-9.9},{"s":12,"a":290,"r":-9.6},{"s":12,"a":295,"r":-9.1},{"s":12,"a":300,"r":-9.9},{"s":12,"a":305,"r":-11.4},{"s":12,"a":310,"r":-8.9},{"s":12,"a":315,"r":-8},{"s":12,"a":320,"r":-7.9},{"s":12,"a":325,"r":-7.4},{"s":12,"a":330,"r":-7.4},{"s":12,"a":335,"r":-7.3},{"s":12,"a":340,"r":-6.1},{"s":12,"a":345,"r":-5.9},{"s":12,"a":350,"r":-6.1},{"s":12,"a":355,"r":-6.1},
{"s":13,"a":2.5,"r":-6},{"s":13,"a":7.5,"r":-6.7},{"s":13,"a":12.5,"r":-7.8},{"s":13,"a":17.5,"r":-8.5},{"s":13,"a":22.5,"r":-8.7},{"s":13,"a":27.5,"r":-8.5},{"s":13,"a":32.5,"r":-8.2},{"s":13,"a":37.5,"r":-8.4},{"s":13,"a":42.5,"r":-8.7},{"s":13,"a":47.5,"r":-8.9},{"s":13,"a":52.5,"r":-8.9},{"s":13,"a":57.5,"r":-8.7},{"s":13,"a":62.5,"r":-8.2},{"s":13,"a":67.5,"r":-7.7},{"s":13,"a":72.5,"r":-8},{"s":13,"a":77.5,"r":-8.5},{"s":13,"a":82.5,"r":-9},{"s":13,"a":87.5,"r":-8.9},{"s":13,"a":92.5,"r":-9},{"s":13,"a":97.5,"r":-9.7},{"s":13,"a":102.5,"r":-9.9},{"s":13,"a":107.5,"r":-10.4},{"s":13,"a":112.5,"r":-10.6},{"s":13,"a":117.5,"r":-9.7},{"s":13,"a":122.5,"r":-9.5},{"s":13,"a":127.5,"r":-10},{"s":13,"a":132.5,"r":-10.3},{"s":13,"a":137.5,"r":-10.2},{"s":13,"a":142.5,"r":-10.4},{"s":13,"a":147.5,"r":-10.9},{"s":13,"a":152.5,"r":-11},{"s":13,"a":157.5,"r":-9.9},{"s":13,"a":162.5,"r":-8.4},{"s":13,"a":167.5,"r":-7.2},{"s":13,"a":172.5,"r":-6.7},{"s":13,"a":177.5,"r":-7.7},
{"s":13,"a":182.5,"r":-13.7},{"s":13,"a":187.5,"r":-23.9},{"s":13,"a":192.5,"r":-15.9},{"s":13,"a":197.5,"r":-9.7},{"s":13,"a":202.5,"r":-7.4},{"s":13,"a":207.5,"r":-7.1},{"s":13,"a":212.5,"r":-7.6},{"s":13,"a":217.5,"r":-9.1},{"s":13,"a":222.5,"r":-10.3},{"s":13,"a":227.5,"r":-9.7},{"s":13,"a":232.5,"r":-8.5},{"s":13,"a":237.5,"r":-7.9},{"s":13,"a":242.5,"r":-7.9},{"s":13,"a":247.5,"r":-8.1},{"s":13,"a":252.5,"r":-8.3},{"s":13,"a":257.5,"r":-8.5},{"s":13,"a":262.5,"r":-8.6},{"s":13,"a":267.5,"r":-8.3},{"s":13,"a":272.5,"r":-8.5},{"s":13,"a":277.5,"r":-9.2},{"s":13,"a":282.5,"r":-10.2},{"s":13,"a":287.5,"r":-10.5},{"s":13,"a":292.5,"r":-10},{"s":13,"a":297.5,"r":-10.3},{"s":13,"a":302.5,"r":-12.5},{"s":13,"a":307.5,"r":-10.6},{"s":13,"a":312.5,"r":-9.3},{"s":13,"a":317.5,"r":-8.7},{"s":13,"a":322.5,"r":-8.4},{"s":13,"a":327.5,"r":-8.2},{"s":13,"a":332.5,"r":-8.6},{"s":13,"a":337.5,"r":-7.6},{"s":13,"a":342.5,"r":-6.6},{"s":13,"a":347.5,"r":-6.5},{"s":13,"a":352.5,"r":-6.6},{"s":13,"a":357.5,"r":-6.7},
{"s":14,"a":2.5,"r":-7.2},{"s":14,"a":7.5,"r":-8.1},{"s":14,"a":12.5,"r":-9.5},{"s":14,"a":17.5,"r":-10.2},{"s":14,"a":22.5,"r":-10},{"s":14,"a":27.5,"r":-9.7},{"s":14,"a":32.5,"r":-9.3},{"s":14,"a":37.5,"r":-9.5},{"s":14,"a":42.5,"r":-9.7},{"s":14,"a":47.5,"r":-10},{"s":14,"a":52.5,"r":-10},{"s":14,"a":57.5,"r":-9.8},{"s":14,"a":62.5,"r":-9.4},{"s":14,"a":67.5,"r":-9},{"s":14,"a":72.5,"r":-9.4},{"s":14,"a":77.5,"r":-9.9},{"s":14,"a":82.5,"r":-10.2},{"s":14,"a":87.5,"r":-10.1},{"s":14,"a":92.5,"r":-10.2},{"s":14,"a":97.5,"r":-12.1},{"s":14,"a":102.5,"r":-10.8},{"s":14,"a":107.5,"r":-11.3},{"s":14,"a":112.5,"r":-12.9},{"s":14,"a":117.5,"r":-10.8},{"s":14,"a":122.5,"r":-10.7},{"s":14,"a":127.5,"r":-11.2},{"s":14,"a":132.5,"r":-12.1},{"s":14,"a":137.5,"r":-11.2},{"s":14,"a":142.5,"r":-11.5},{"s":14,"a":147.5,"r":-12},{"s":14,"a":152.5,"r":-12.7},{"s":14,"a":157.5,"r":-11.1},{"s":14,"a":162.5,"r":-9.4},{"s":14,"a":167.5,"r":-8.1},{"s":14,"a":172.5,"r":-7.6},{"s":14,"a":177.5,"r":-8.6},
{"s":14,"a":182.5,"r":-13.1},{"s":14,"a":187.5,"r":-23.6},{"s":14,"a":192.5,"r":-15.1},{"s":14,"a":197.5,"r":-8.5},{"s":14,"a":202.5,"r":-6},{"s":14,"a":207.5,"r":-5.7},{"s":14,"a":212.5,"r":-6.4},{"s":14,"a":217.5,"r":-8.2},{"s":14,"a":222.5,"r":-9.2},{"s":14,"a":227.5,"r":-8.5},{"s":14,"a":232.5,"r":-7},{"s":14,"a":237.5,"r":-6.1},{"s":14,"a":242.5,"r":-5.8},{"s":14,"a":247.5,"r":-6.1},{"s":14,"a":252.5,"r":-6.5},{"s":14,"a":257.5,"r":-7.2},{"s":14,"a":262.5,"r":-7.7},{"s":14,"a":267.5,"r":-7.4},{"s":14,"a":272.5,"r":-7.4},{"s":14,"a":277.5,"r":-8},{"s":14,"a":282.5,"r":-8.3},{"s":14,"a":287.5,"r":-8.4},{"s":14,"a":292.5,"r":-8.1},{"s":14,"a":297.5,"r":-7.9},{"s":14,"a":302.5,"r":-8},{"s":14,"a":307.5,"r":-7.3},{"s":14,"a":312.5,"r":-6.7},{"s":14,"a":317.5,"r":-6.4},{"s":14,"a":322.5,"r":-6.1},{"s":14,"a":327.5,"r":-5.7},{"s":14,"a":332.5,"r":-5.3},{"s":14,"a":337.5,"r":-4.9},{"s":14,"a":342.5,"r":-4.8},{"s":14,"a":347.5,"r":-5},{"s":14,"a":352.5,"r":-5.2},{"s":14,"a":357.5,"r":-5.5},
{"s":15,"a":2.5,"r":-8.4},{"s":15,"a":7.5,"r":-9.4},{"s":15,"a":12.5,"r":-11.2},{"s":15,"a":17.5,"r":-11.8},{"s":15,"a":22.5,"r":-11.3},{"s":15,"a":27.5,"r":-10.9},{"s":15,"a":32.5,"r":-10.4},{"s":15,"a":37.5,"r":-10.5},{"s":15,"a":42.5,"r":-10.8},{"s":15,"a":47.5,"r":-11},{"s":15,"a":52.5,"r":-11},{"s":15,"a":57.5,"r":-10.9},{"s":15,"a":62.5,"r":-10.6},{"s":15,"a":67.5,"r":-10.3},{"s":15,"a":72.5,"r":-10.8},{"s":15,"a":77.5,"r":-11.3},{"s":15,"a":82.5,"r":-11.4},{"s":15,"a":87.5,"r":-11.2},{"s":15,"a":92.5,"r":-11.4},{"s":15,"a":97.5,"r":-14.5},{"s":15,"a":102.5,"r":-11.7},{"s":15,"a":107.5,"r":-12.2},{"s":15,"a":112.5,"r":-15.1},{"s":15,"a":117.5,"r":-11.9},{"s":15,"a":122.5,"r":-11.9},{"s":15,"a":127.5,"r":-12.4},{"s":15,"a":132.5,"r":-13.9},{"s":15,"a":137.5,"r":-12.3},{"s":15,"a":142.5,"r":-12.5},{"s":15,"a":147.5,"r":-13},{"s":15,"a":152.5,"r":-14.3},{"s":15,"a":157.5,"r":-12.2},{"s":15,"a":162.5,"r":-10.4},{"s":15,"a":167.5,"r":-9},{"s":15,"a":172.5,"r":-8.5},{"s":15,"a":177.5,"r":-9.5},
{"s":15,"a":182.5,"r":-14.9},{"s":15,"a":187.5,"r":-24.5},{"s":15,"a":192.5,"r":-17.4},{"s":15,"a":197.5,"r":-12.1},{"s":15,"a":202.5,"r":-10.3},{"s":15,"a":207.5,"r":-9.8},{"s":15,"a":212.5,"r":-9.8},{"s":15,"a":217.5,"r":-11.1},{"s":15,"a":222.5,"r":-12.6},{"s":15,"a":227.5,"r":-12.3},{"s":15,"a":232.5,"r":-11.5},{"s":15,"a":237.5,"r":-11.5},{"s":15,"a":242.5,"r":-11.9},{"s":15,"a":247.5,"r":-12.2},{"s":15,"a":252.5,"r":-11.7},{"s":15,"a":257.5,"r":-11},{"s":15,"a":262.5,"r":-10.4},{"s":15,"a":267.5,"r":-10.1},{"s":15,"a":272.5,"r":-10.6},{"s":15,"a":277.5,"r":-11.8},{"s":15,"a":282.5,"r":-13.9},{"s":15,"a":287.5,"r":-14.7},{"s":15,"a":292.5,"r":-13.9},{"s":15,"a":297.5,"r":-15.1},{"s":15,"a":302.5,"r":-21.5},{"s":15,"a":307.5,"r":-17.2},{"s":15,"a":312.5,"r":-14.6},{"s":15,"a":317.5,"r":-13.4},{"s":15,"a":322.5,"r":-12.9},{"s":15,"a":327.5,"r":-13.3},{"s":15,"a":332.5,"r":-15.2},{"s":15,"a":337.5,"r":-12.8},{"s":15,"a":342.5,"r":-10.2},{"s":15,"a":347.5,"r":-9.5},{"s":15,"a":352.5,"r":-9.3},{"s":15,"a":357.5,"r":-9.3},
{"s":16,"a":2.5,"r":-9.6},{"s":16,"a":7.5,"r":-10.8},{"s":16,"a":12.5,"r":-13},{"s":16,"a":17.5,"r":-13.5},{"s":16,"a":22.5,"r":-12.5},{"s":16,"a":27.5,"r":-12.1},{"s":16,"a":32.5,"r":-11.6},{"s":16,"a":37.5,"r":-11.6},{"s":16,"a":42.5,"r":-11.8},{"s":16,"a":47.5,"r":-12.1},{"s":16,"a":52.5,"r":-12.1},{"s":16,"a":57.5,"r":-12.1},{"s":16,"a":62.5,"r":-11.8},{"s":16,"a":67.5,"r":-11.5},{"s":16,"a":72.5,"r":-12.3},{"s":16,"a":77.5,"r":-12.8},{"s":16,"a":82.5,"r":-12.6},{"s":16,"a":87.5,"r":-12.3},{"s":16,"a":92.5,"r":-12.6},{"s":16,"a":97.5,"r":-16.9},{"s":16,"a":102.5,"r":-12.6},{"s":16,"a":107.5,"r":-13.1},{"s":16,"a":112.5,"r":-17.4},{"s":16,"a":117.5,"r":-13.1},{"s":16,"a":122.5,"r":-13.1},{"s":16,"a":127.5,"r":-13.6},{"s":16,"a":132.5,"r":-15.7},{"s":16,"a":137.5,"r":-13.3},{"s":16,"a":142.5,"r":-13.6},{"s":16,"a":147.5,"r":-14.1},{"s":16,"a":152.5,"r":-16},{"s":16,"a":157.5,"r":-13.3},{"s":16,"a":162.5,"r":-11.3},{"s":16,"a":167.5,"r":-9.9},{"s":16,"a":172.5,"r":-9.4},{"s":16,"a":177.5,"r":-10.4},
{"s":16,"a":182.5,"r":-14.3},{"s":16,"a":187.5,"r":-24.2},{"s":16,"a":192.5,"r":-16.6},{"s":16,"a":197.5,"r":-10.9},{"s":16,"a":202.5,"r":-8.8},{"s":16,"a":207.5,"r":-8.4},{"s":16,"a":212.5,"r":-8.7},{"s":16,"a":217.5,"r":-10.1},{"s":16,"a":222.5,"r":-11.4},{"s":16,"a":227.5,"r":-11},{"s":16,"a":232.5,"r":-10},{"s":16,"a":237.5,"r":-9.7},{"s":16,"a":242.5,"r":-9.9},{"s":16,"a":247.5,"r":-10.1},{"s":16,"a":252.5,"r":-10},{"s":16,"a":257.5,"r":-9.8},{"s":16,"a":262.5,"r":-9.5},{"s":16,"a":267.5,"r":-9.2},{"s":16,"a":272.5,"r":-9.5},{"s":16,"a":277.5,"r":-10.5},{"s":16,"a":282.5,"r":-12.1},{"s":16,"a":287.5,"r":-12.6},{"s":16,"a":292.5,"r":-12},{"s":16,"a":297.5,"r":-12.7},{"s":16,"a":302.5,"r":-17},{"s":16,"a":307.5,"r":-13.9},{"s":16,"a":312.5,"r":-11.9},{"s":16,"a":317.5,"r":-11},{"s":16,"a":322.5,"r":-10.6},{"s":16,"a":327.5,"r":-10.8},{"s":16,"a":332.5,"r":-11.9},{"s":16,"a":337.5,"r":-10.2},{"s":16,"a":342.5,"r":-8.4},{"s":16,"a":347.5,"r":-8},{"s":16,"a":352.5,"r":-7.9},{"s":16,"a":357.5,"r":-8}
]
},
"layer":[
{"data":{"name":"rings"},"transform":[{"filter":"datum.db == 5"},{"calculate":"datum.db+40","as":"rr"},{"calculate":"0","as":"cx"}],
 "mark":{"type":"point","shape":"circle","filled":true,"fill":"#ffffff","strokeWidth":0,"opacity":1},
 "encoding":{"x":{"field":"cx","type":"quantitative","axis":null,"scale":{"domain":[-103.69,103.69],"nice":false,"zero":false}},
  "y":{"field":"cx","type":"quantitative","axis":null,"scale":{"domain":[-45.62,45.62],"nice":false,"zero":false}},
  "size":{"field":"rr","type":"quantitative","legend":null,"scale":{"type":"pow","exponent":2,"domain":[0,45],"range":[0,147934],"zero":true,"nice":false}}}},
{"data":{"name":"rings"},"transform":[{"filter":"datum.db > -40 && datum.db < 5"},{"calculate":"datum.db+40","as":"rr"},{"calculate":"0","as":"cx"}],
 "mark":{"type":"point","shape":"circle","filled":false,"stroke":"#dadada","strokeWidth":1,"opacity":1},
 "encoding":{"x":{"field":"cx","type":"quantitative","axis":null,"scale":{"domain":[-103.69,103.69],"nice":false,"zero":false}},
  "y":{"field":"cx","type":"quantitative","axis":null,"scale":{"domain":[-45.62,45.62],"nice":false,"zero":false}},
  "size":{"field":"rr","type":"quantitative","legend":null,"scale":{"type":"pow","exponent":2,"domain":[0,45],"range":[0,147934],"zero":true,"nice":false}}}},
{"data":{"name":"spokes"},"transform":[{"calculate":"0","as":"cx"},{"calculate":"45*sin(datum.ang*PI/180)","as":"ex"},{"calculate":"45*cos(datum.ang*PI/180)","as":"ey"}],
 "mark":{"type":"rule","stroke":"#dadada","strokeWidth":1},
 "encoding":{"x":{"field":"cx","type":"quantitative","axis":null,"scale":{"domain":[-103.69,103.69],"nice":false,"zero":false}},"y":{"field":"cx","type":"quantitative","axis":null,"scale":{"domain":[-45.62,45.62],"nice":false,"zero":false}},"x2":{"field":"ex"},"y2":{"field":"ey"}}},
{"data":{"name":"curves"},"transform":[{"calculate":"(datum.r+40)*sin(datum.a*PI/180)","as":"px"},{"calculate":"(datum.r+40)*cos(datum.a*PI/180)","as":"py"}],
 "mark":{"type":"line","interpolate":"cardinal-closed","strokeWidth":0.9,"opacity":0.8},
 "encoding":{"x":{"field":"px","type":"quantitative","axis":null,"scale":{"domain":[-103.69,103.69],"nice":false,"zero":false}},"y":{"field":"py","type":"quantitative","axis":null,"scale":{"domain":[-45.62,45.62],"nice":false,"zero":false}},
  "color":{"field":"s","type":"nominal","legend":null,"scale":{"range":["#d62728","#2ca02c","#2b3fbf","#8e44ad","#d4a017","#17becf","#e377c2","#8c564b","#9acd32","#2a1f7a","#ff7f0e","#20b2aa","#c71585","#4682b4","#b8860b","#3cb371"]}},
  "order":{"field":"a","type":"quantitative"}}},
{"data":{"name":"rings"},"transform":[{"filter":"datum.db == 5"},{"calculate":"datum.db+40","as":"rr"},{"calculate":"0","as":"cx"}],
 "mark":{"type":"point","shape":"circle","filled":false,"stroke":"#555555","strokeWidth":1.2,"opacity":1},
 "encoding":{"x":{"field":"cx","type":"quantitative","axis":null,"scale":{"domain":[-103.69,103.69],"nice":false,"zero":false}},
  "y":{"field":"cx","type":"quantitative","axis":null,"scale":{"domain":[-45.62,45.62],"nice":false,"zero":false}},
  "size":{"field":"rr","type":"quantitative","legend":null,"scale":{"type":"pow","exponent":2,"domain":[0,45],"range":[0,147934],"zero":true,"nice":false}}}},
{"data":{"name":"rings"},"transform":[{"calculate":"datum.db+40","as":"rr"},{"calculate":"0","as":"cx"}],
 "mark":{"type":"text","fontSize":8,"color":"#555555","align":"center","baseline":"middle"},
 "encoding":{"x":{"field":"cx","type":"quantitative","axis":null,"scale":{"domain":[-103.69,103.69],"nice":false,"zero":false}},"y":{"field":"rr","type":"quantitative","axis":null,"scale":{"domain":[-45.62,45.62],"nice":false,"zero":false}},"text":{"field":"db","type":"quantitative"}}},
{"data":{"name":"spokes"},"transform":[{"calculate":"46.55*sin(datum.ang*PI/180)","as":"lx"},{"calculate":"46.55*cos(datum.ang*PI/180)","as":"ly"}],
 "mark":{"type":"text","fontSize":8,"color":"#444444","align":"center","baseline":"middle"},
 "encoding":{"x":{"field":"lx","type":"quantitative","axis":null,"scale":{"domain":[-103.69,103.69],"nice":false,"zero":false}},"y":{"field":"ly","type":"quantitative","axis":null,"scale":{"domain":[-45.62,45.62],"nice":false,"zero":false}},"text":{"field":"ang","type":"quantitative"}}},
{"data":{"values":[{"k":"z"}]},"transform":[{"calculate":"-107.42","as":"x1"},{"calculate":"-46.45","as":"y1"},{"calculate":"-39.4","as":"y2"}],
 "mark":{"type":"rule","stroke":"#e0506a","strokeWidth":1.2},
 "encoding":{"x":{"field":"x1","type":"quantitative","axis":null,"scale":{"domain":[-103.69,103.69],"nice":false,"zero":false}},"y":{"field":"y1","type":"quantitative","axis":null,"scale":{"domain":[-45.62,45.62],"nice":false,"zero":false}},"y2":{"field":"y2"}}},
{"data":{"values":[{"k":"y"}]},"transform":[{"calculate":"-107.42","as":"x1"},{"calculate":"-99.95","as":"x2"},{"calculate":"-46.45","as":"y1"}],
 "mark":{"type":"rule","stroke":"#e0506a","strokeWidth":1.2},
 "encoding":{"x":{"field":"x1","type":"quantitative","axis":null,"scale":{"domain":[-103.69,103.69],"nice":false,"zero":false}},"x2":{"field":"x2"},"y":{"field":"y1","type":"quantitative","axis":null,"scale":{"domain":[-45.62,45.62],"nice":false,"zero":false}}}},
{"data":{"values":[{"t":"Z"}]},"transform":[{"calculate":"-107.42","as":"x1"},{"calculate":"-37.6","as":"y1"}],
 "mark":{"type":"text","fontSize":8,"color":"#555555","align":"center","baseline":"middle"},
 "encoding":{"x":{"field":"x1","type":"quantitative","axis":null,"scale":{"domain":[-103.69,103.69],"nice":false,"zero":false}},"y":{"field":"y1","type":"quantitative","axis":null,"scale":{"domain":[-45.62,45.62],"nice":false,"zero":false}},"text":{"field":"t","type":"nominal"}}},
{"data":{"values":[{"t":"Y"}]},"transform":[{"calculate":"-99.4","as":"x1"},{"calculate":"-46.45","as":"y1"}],
 "mark":{"type":"text","fontSize":8,"color":"#555555","align":"left","baseline":"middle"},
 "encoding":{"x":{"field":"x1","type":"quantitative","axis":null,"scale":{"domain":[-103.69,103.69],"nice":false,"zero":false}},"y":{"field":"y1","type":"quantitative","axis":null,"scale":{"domain":[-45.62,45.62],"nice":false,"zero":false}},"text":{"field":"t","type":"nominal"}}}
]
}
